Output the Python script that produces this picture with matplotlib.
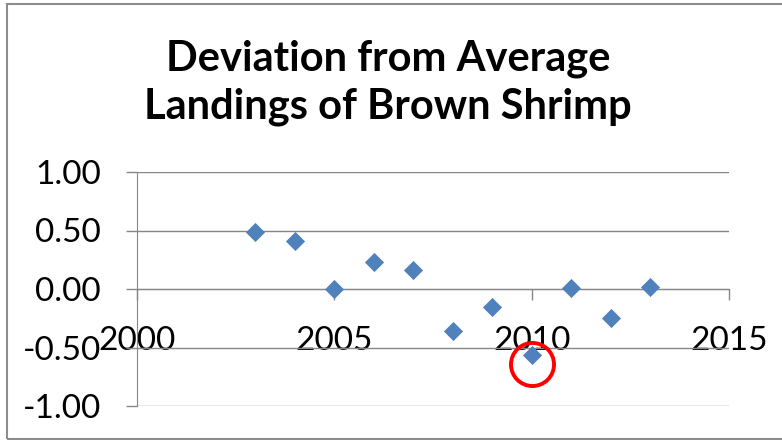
import numpy as np
import matplotlib
matplotlib.use("Agg")
import matplotlib.pyplot as plt
from matplotlib.patches import Rectangle

# deviation from average landings, by year
years = [2003, 2004, 2005, 2006, 2007, 2008, 2009, 2010, 2011, 2012, 2013]
deviation = [0.49, 0.41, 0.00, 0.23, 0.16, -0.36, -0.15, -0.56, 0.01, -0.245, 0.02]

# red circle drawn around the 2010 point
highlight_x = [2010]
highlight_y = [-0.64]

x_ticks = [2000, 2005, 2010, 2015]
y_ticks = [-1.0, -0.5, 0.0, 0.5, 1.0]

plt.rcParams["font.family"] = ["Lato", "DejaVu Sans"]

fig = plt.figure(figsize=(7.82, 4.40), dpi=100)
grid_col = "#868686"

# chart area border (grey, Excel style), right edge runs off the picture
fig.patches.append(Rectangle((7/782, 1/440), 1.2, 435/440, transform=fig.transFigure,
                             fill=False, edgecolor="#8c8c8c", linewidth=1.5))

ax = fig.add_axes([137/782, 34/440, 592/782, 234/440])
ax.scatter(years, deviation, marker="D", s=95, color="#4F81BD", zorder=3, linewidths=0)
ax.plot(highlight_x, highlight_y, marker="o", ms=31, mfc="none", mec="#ff0000",
        mew=2.8, ls="none", zorder=4)

ax.set_xlim(2000, 2015)
ax.set_ylim(-1.0, 1.0)
ax.set_xticks(x_ticks)
ax.set_yticks(y_ticks)
ax.set_yticklabels(["%.2f" % v for v in y_ticks])

ax.grid(True, axis="y", color=grid_col, linewidth=1.0)
ax.set_axisbelow(True)
for side in ["top", "right"]:
    ax.spines[side].set_visible(False)
ax.spines["left"].set_color(grid_col)
ax.spines["bottom"].set_color(grid_col)
ax.spines["bottom"].set_position(("data", 0))

ax.tick_params(axis="y", length=8, color=grid_col, labelsize=24, pad=18, width=1.0)
ax.tick_params(axis="x", length=8, color=grid_col, labelsize=24, pad=19, width=1.0)

for lab in ax.get_xticklabels() + ax.get_yticklabels():
    lab.set_color("black")

fig.text(0.496, 0.812, "Deviation from Average\nLandings of Brown Shrimp",
         ha="center", va="center", fontsize=30, fontweight="bold", linespacing=1.28)

fig.savefig("out.png", dpi=100)
